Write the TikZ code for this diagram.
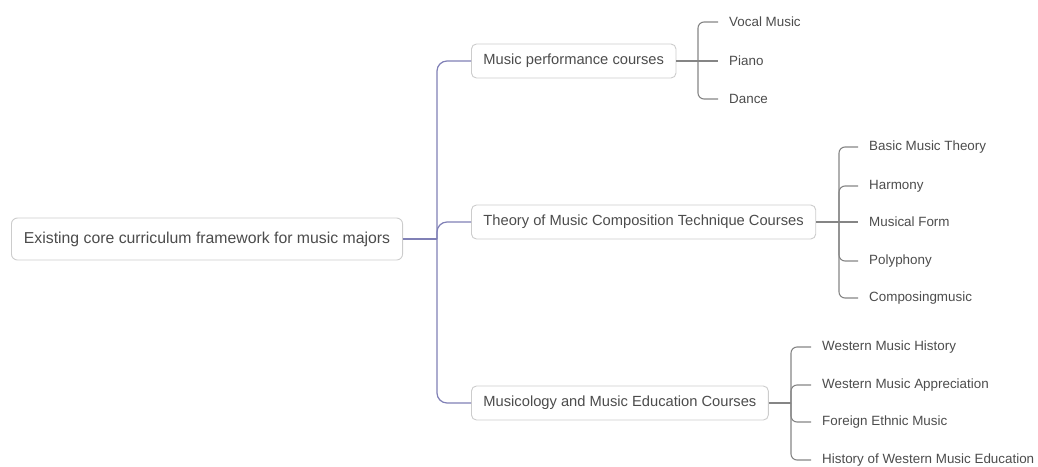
\documentclass[tikz,border=0pt]{standalone}
\usepackage{fontspec}
\setmainfont{Liberation Sans}
\definecolor{trunkcol}{RGB}{128,128,182}
\begin{document}
\begin{tikzpicture}[x=1pt,y=-1pt,
  txt/.style={text=black!70},
  rootbox/.style={txt, draw=black!20, line width=0.9pt, rounded corners=6pt, fill=white,
    anchor=west, inner xsep=12.5pt, minimum height=42pt, font=\fontsize{15.8}{18}\selectfont},
  branchbox/.style={txt, draw=black!20, line width=0.9pt, rounded corners=5pt, fill=white,
    anchor=west, inner xsep=12pt, minimum height=34pt, font=\fontsize{14.7}{17}\selectfont},
  leaf/.style={txt, anchor=west, inner xsep=11pt, inner ysep=2pt, font=\fontsize{13.4}{16}\selectfont},
  trunk/.style={draw=trunkcol, line width=1.2pt, rounded corners=10pt},
  twig/.style={draw=black!48, line width=1.1pt, rounded corners=6pt}]
\useasboundingbox (0,0) rectangle (1038,466);

% root and main branches
\node[rootbox] (root) at (11,239) {Existing core curriculum framework for music majors};
\node[branchbox] (perf) at (471,61) {Music performance courses};
\node[branchbox] (theo) at (471,222) {Theory of Music Composition Technique Courses};
\node[branchbox] (mued) at (471,403) {Musicology and Music Education Courses};

\coordinate (hub) at (437,239);
\draw[trunk] (root.east) -- (hub);
\foreach \b in {perf,theo,mued} \draw[trunk] (hub) |- (\b.west);

% performance courses
\node[leaf] (p1) at (718,22) {Vocal Music};
\node[leaf] (p2) at (718,61) {Piano};
\node[leaf] (p3) at (718,99) {Dance};
\coordinate (pj) at (698,61);
\draw[twig] (perf.east) -- (p2.west);
\foreach \l in {p1,p3} \draw[twig] (pj) |- (\l.west);

% theory / composition courses
\node[leaf] (t1) at (858,147) {Basic Music Theory};
\node[leaf] (t2) at (858,186) {Harmony};
\node[leaf] (t3) at (858,222) {Musical Form};
\node[leaf] (t4) at (858,261) {Polyphony};
\node[leaf] (t5) at (858,298) {Composingmusic};
\coordinate (tj) at (839,222);
\draw[twig] (theo.east) -- (t3.west);
\foreach \l in {t1,t2,t4,t5} \draw[twig] (tj) |- (\l.west);

% musicology / education courses
\node[leaf] (m1) at (811,347) {Western Music History};
\node[leaf] (m2) at (811,385) {Western Music Appreciation};
\node[leaf] (m3) at (811,422) {Foreign Ethnic Music};
\node[leaf] (m4) at (811,460) {History of Western Music Education};
\coordinate (mj) at (791,403);
\draw[twig] (mued.east) -- (mj);
\foreach \l in {m1,m2,m3,m4} \draw[twig] (mj) |- (\l.west);
\end{tikzpicture}
\end{document}
